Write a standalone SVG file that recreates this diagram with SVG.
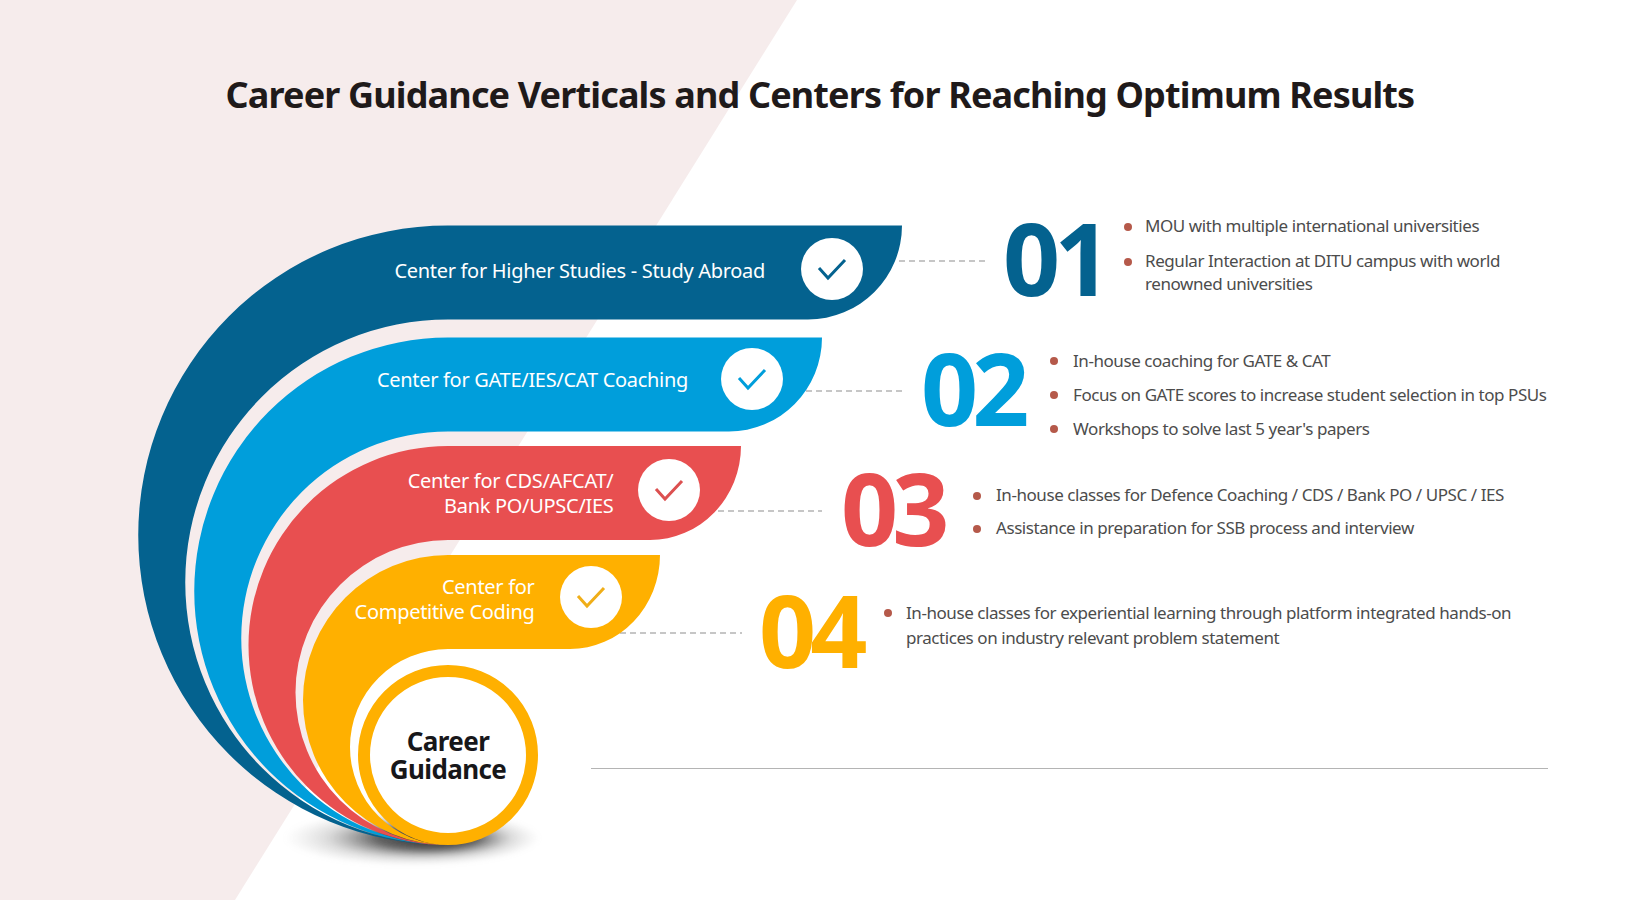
<svg xmlns="http://www.w3.org/2000/svg" width="1640" height="900" viewBox="0 0 1640 900">
  <style>
    text { font-family: "Noto Sans", "Open Sans", sans-serif; }
    .title { font-size: 36px; font-weight: 700; fill: #1f1a1a; letter-spacing: -0.85px; }
    .label { font-size: 20px; fill: #ffffff; text-anchor: end; letter-spacing: -0.3px; }
    .hub { font-size: 26px; font-weight: 700; fill: #17171a; text-anchor: middle; letter-spacing: -0.6px; }
    .num { font-size: 100px; font-weight: 700; letter-spacing: -6px; }
    .item { font-size: 17px; fill: #4c4c4c; letter-spacing: -0.435px; }
    .dash { stroke: #b4b4b4; stroke-width: 1.5; stroke-dasharray: 6 4; fill: none; }
    .tick { fill: none; stroke-width: 3; }
    .dot { fill: #b5594a; }
  </style>
  <defs>
    <radialGradient id="shade" fx="0.6" fy="0.5">
      <stop offset="0" stop-color="#222222" stop-opacity="1"/>
      <stop offset="0.4" stop-color="#4a4a4a" stop-opacity="0.85"/>
      <stop offset="0.72" stop-color="#8a8a8a" stop-opacity="0.3"/>
      <stop offset="1" stop-color="#b0b0b0" stop-opacity="0"/>
    </radialGradient>
    <filter id="soft" x="-30%" y="-150%" width="160%" height="400%">
      <feGaussianBlur stdDeviation="2"/>
    </filter>
    <g id="check-disc">
      <circle r="31" fill="#ffffff"/>
    </g>
  </defs>

  <rect width="1640" height="900" fill="#ffffff"/>
  <polygon points="0,0 797,0 235,900 0,900" fill="#f6ecec"/>

  <text class="title" x="225.500" y="108">Career Guidance Verticals and Centers for Reaching Optimum Results</text>

  <!-- ground shadow under the spiral -->
  <ellipse cx="412" cy="838" rx="128" ry="28" fill="url(#shade)" filter="url(#soft)"/>

  <g id="connectors">
    <line class="dash" x1="899" y1="261" x2="985" y2="261"/>
    <line class="dash" x1="806" y1="391" x2="902" y2="391"/>
    <line class="dash" x1="718" y1="511" x2="822" y2="511"/>
    <line class="dash" x1="620" y1="633" x2="742" y2="633"/>
  </g>

  <g id="band-1">
    <path fill="#04628f" d="M902,225.500 A94,94 0 0 1 808,319.500 L448,319.500 A262.750,262.750 0 0 0 448,845 A309.750,309.750 0 0 1 448,225.500 Z"/>
    <text class="label" x="765" y="278">Center for Higher Studies - Study Abroad</text>
    <use href="#check-disc" x="832" y="269"/>
    <path class="tick" stroke="#04628f" d="M819,268 L828,278 L845,260"/>
  </g>

  <g id="band-2">
    <path fill="#009edb" d="M822,337.500 A93,94 0 0 1 729,431.500 L448,431.500 A206.750,206.750 0 0 0 448,845 A253.750,253.750 0 0 1 448,337.500 Z"/>
    <text class="label" x="688" y="387">Center for GATE/IES/CAT Coaching</text>
    <use href="#check-disc" x="752" y="379"/>
    <path class="tick" stroke="#009edb" d="M739,378 L748,388 L765,370"/>
  </g>

  <g id="band-3">
    <path fill="#e84f50" d="M741,446 A91,94 0 0 1 650,540 L448,540 A152.500,152.500 0 0 0 448,845 A199.500,199.500 0 0 1 448,446 Z"/>
    <text class="label" x="613.500" y="488">Center for CDS/AFCAT/</text>
    <text class="label" x="613.500" y="513">Bank PO/UPSC/IES</text>
    <use href="#check-disc" x="669" y="490"/>
    <path class="tick" stroke="#dc5050" d="M656,489 L665,499 L682,481"/>
  </g>

  <g id="band-4">
    <path fill="#ffb000" d="M660,555 A90,94 0 0 1 570,649 L448,649 A98,98 0 0 0 448,845 A145,145 0 0 1 448,555 Z"/>
    <text class="label" x="534.500" y="594">Center for</text>
    <text class="label" x="534.500" y="619">Competitive Coding</text>
    <use href="#check-disc" x="591" y="597"/>
    <path class="tick" stroke="#f0ae18" d="M578,596 L587,606 L604,588"/>
  </g>

  <g id="hub">
    <circle cx="448" cy="755" r="84" fill="#ffffff" stroke="#ffb000" stroke-width="12"/>
    <text class="hub" x="448" y="751">Career<tspan x="448" y="779">Guidance</tspan></text>
  </g>

  <g id="detail-1">
    <text class="num" x="1003" y="296" fill="#04628f">01</text>
    <circle class="dot" cx="1128" cy="227" r="4"/>
    <text class="item" x="1145" y="232">MOU with multiple international universities</text>
    <circle class="dot" cx="1128" cy="262" r="4"/>
    <text class="item" x="1145" y="267">Regular Interaction at DITU campus with world</text>
    <text class="item" x="1145" y="290">renowned universities</text>
  </g>

  <g id="detail-2">
    <text class="num" x="921" y="426" fill="#009edb">02</text>
    <circle class="dot" cx="1054" cy="361" r="4"/>
    <text class="item" x="1073" y="367">In-house coaching for GATE &amp; CAT</text>
    <circle class="dot" cx="1054" cy="395" r="4"/>
    <text class="item" x="1073" y="401">Focus on GATE scores to increase student selection in top PSUs</text>
    <circle class="dot" cx="1054" cy="429" r="4"/>
    <text class="item" x="1073" y="435">Workshops to solve last 5 year's papers</text>
  </g>

  <g id="detail-3">
    <text class="num" x="841" y="546" fill="#e84f50">03</text>
    <circle class="dot" cx="977" cy="496" r="4"/>
    <text class="item" x="996" y="501">In-house classes for Defence Coaching / CDS / Bank PO / UPSC / IES</text>
    <circle class="dot" cx="977" cy="529" r="4"/>
    <text class="item" x="996" y="534">Assistance in preparation for SSB process and interview</text>
  </g>

  <g id="detail-4">
    <text class="num" x="759" y="668" fill="#ffb000">04</text>
    <circle class="dot" cx="888" cy="613" r="4"/>
    <text class="item" x="906" y="619">In-house classes for experiential learning through platform integrated hands-on</text>
    <text class="item" x="906" y="644">practices on industry relevant problem statement</text>
  </g>

  <line x1="591" y1="768.500" x2="1548" y2="768.500" stroke="#b4b4b4" stroke-width="1"/>
</svg>
